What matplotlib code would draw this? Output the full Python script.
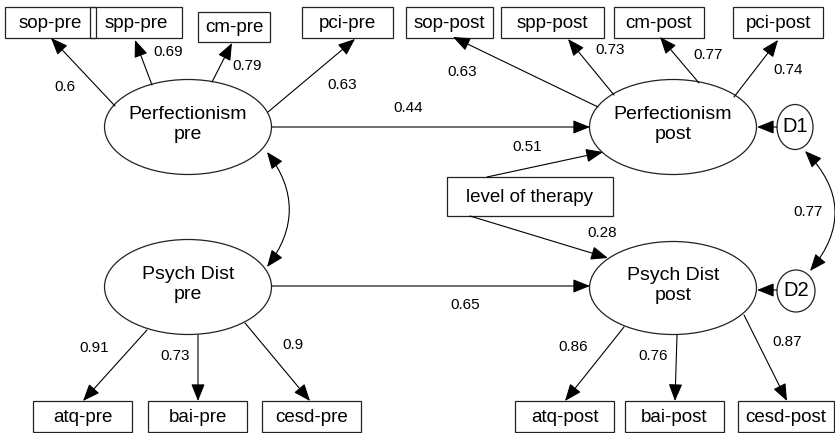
import matplotlib
matplotlib.use("Agg")
import matplotlib.pyplot as plt
from matplotlib.patches import Ellipse, Rectangle, FancyArrowPatch

plt.rcParams["font.family"] = ["Liberation Sans", "DejaVu Sans"]

# observed indicators (boxes): name -> (x0, y0, x1, y1) in pixels
boxes = {
    "sop-pre": (5, 7, 96, 38), "spp-pre": (90, 7, 182, 38),
    "cm-pre": (198, 12, 270, 42), "pci-pre": (302, 7, 393, 38),
    "sop-post": (406, 7, 493, 38), "spp-post": (501, 7, 604, 38),
    "cm-post": (614, 7, 704, 38), "pci-post": (733, 7, 823, 38),
    "level of therapy": (447, 177, 613, 216),
    "atq-pre": (33, 401, 132, 432), "bai-pre": (148, 401, 247, 432),
    "cesd-pre": (262, 401, 361, 432),
    "atq-post": (515, 401, 614, 432), "bai-post": (625, 401, 724, 432),
    "cesd-post": (738, 401, 834, 432),
}

# latent factors and disturbances: name -> (cx, cy, w, h)
latents = {
    "Perfectionism\npre": (188, 127, 167, 95),
    "Perfectionism\npost": (673, 127, 167, 95),
    "Psych Dist\npre": (188, 287, 167, 95),
    "Psych Dist\npost": (673, 288, 167, 93),
    "D1": (795, 127, 36, 45),
    "D2": (796, 291, 38, 42),
}

# loadings / paths
loading_vals = [0.6, 0.69, 0.79, 0.63, 0.63, 0.73, 0.77, 0.74,
                0.91, 0.73, 0.9, 0.86, 0.76, 0.87]
path_vals = [0.44, 0.65, 0.51, 0.28]
cov_vals = [0.77]

# arrow geometry (start, end) and label positions
loading_arrows = [
    ((115, 106), (51, 38)), ((152, 85), (135, 40)), ((212, 82), (232, 43)),
    ((268, 112), (355, 39)),
    ((598, 107), (453, 37)), ((614, 95), (568, 39)), ((699, 83), (660, 37)),
    ((734, 97), (778, 40)),
    ((147, 330), (83, 401)), ((198, 335), (198, 401)), ((245, 323), (310, 401)),
    ((624, 327), (565, 401)), ((677, 335), (675, 401)), ((744, 315), (787, 401)),
]
loading_pos = [(65, 87), (168, 52), (247, 66), (342, 85),
               (462, 72), (610, 50), (708, 55), (788, 70),
               (94, 348), (175, 356), (293, 345), (573, 347), (653, 356),
               (787, 342)]
path_arrows = [((272, 127), (590, 127)), ((272, 286), (590, 286)),
               ((487, 177), (603, 152)), ((470, 216), (608, 258))]
path_pos = [(408, 108), (465, 305), (527, 147), (602, 233)]

fig = plt.figure(figsize=(8.35, 4.33), dpi=100)
ax = fig.add_axes([0, 0, 1, 1])
ax.set_xlim(0, 835)
ax.set_ylim(433, 0)
ax.axis("off")

edge = "#222222"
for name, (x0, y0, x1, y1) in boxes.items():
    ax.add_patch(Rectangle((x0, y0), x1 - x0, y1 - y0, fill=False,
                           ec=edge, lw=0.9))
    ax.text((x0 + x1) / 2, (y0 + y1) / 2 + 0.5, name, ha="center",
            va="center", fontsize=13.5)

for name, (cx, cy, w, h) in latents.items():
    ax.add_patch(Ellipse((cx, cy), w, h, fill=False, ec=edge, lw=0.9))
    dy = -2.5 if len(name) > 2 else 0
    ax.text(cx, cy + dy, name, ha="center", va="center",
            fontsize=14 if len(name) > 2 else 14.5, linespacing=1.3)


def arrow(p0, p1, style="-|>", rad=0.0):
    a = FancyArrowPatch(p0, p1, arrowstyle=style + ",head_length=0.75,head_width=0.3",
                        mutation_scale=14, shrinkA=0, shrinkB=0, lw=0.8,
                        color="black", connectionstyle=f"arc3,rad={rad}")
    ax.add_patch(a)


for (p0, p1), v, pos in zip(loading_arrows, loading_vals, loading_pos):
    arrow(p0, p1)
    ax.text(pos[0], pos[1], f"{v:g}", ha="center", va="center", fontsize=11)

for (p0, p1), v, pos in zip(path_arrows, path_vals, path_pos):
    arrow(p0, p1)
    ax.text(pos[0], pos[1], f"{v:g}", ha="center", va="center", fontsize=11)

# disturbances
arrow((777, 127), (757, 127))
arrow((777, 290), (757, 290))

# covariances
arrow((267, 152), (267, 267), style="<|-|>", rad=-0.38)
arrow((805, 151), (810, 271), style="<|-|>", rad=-0.45)
ax.text(808, 212, f"{cov_vals[0]:g}", ha="center", va="center", fontsize=11)

fig.savefig("out.png", dpi=100)
